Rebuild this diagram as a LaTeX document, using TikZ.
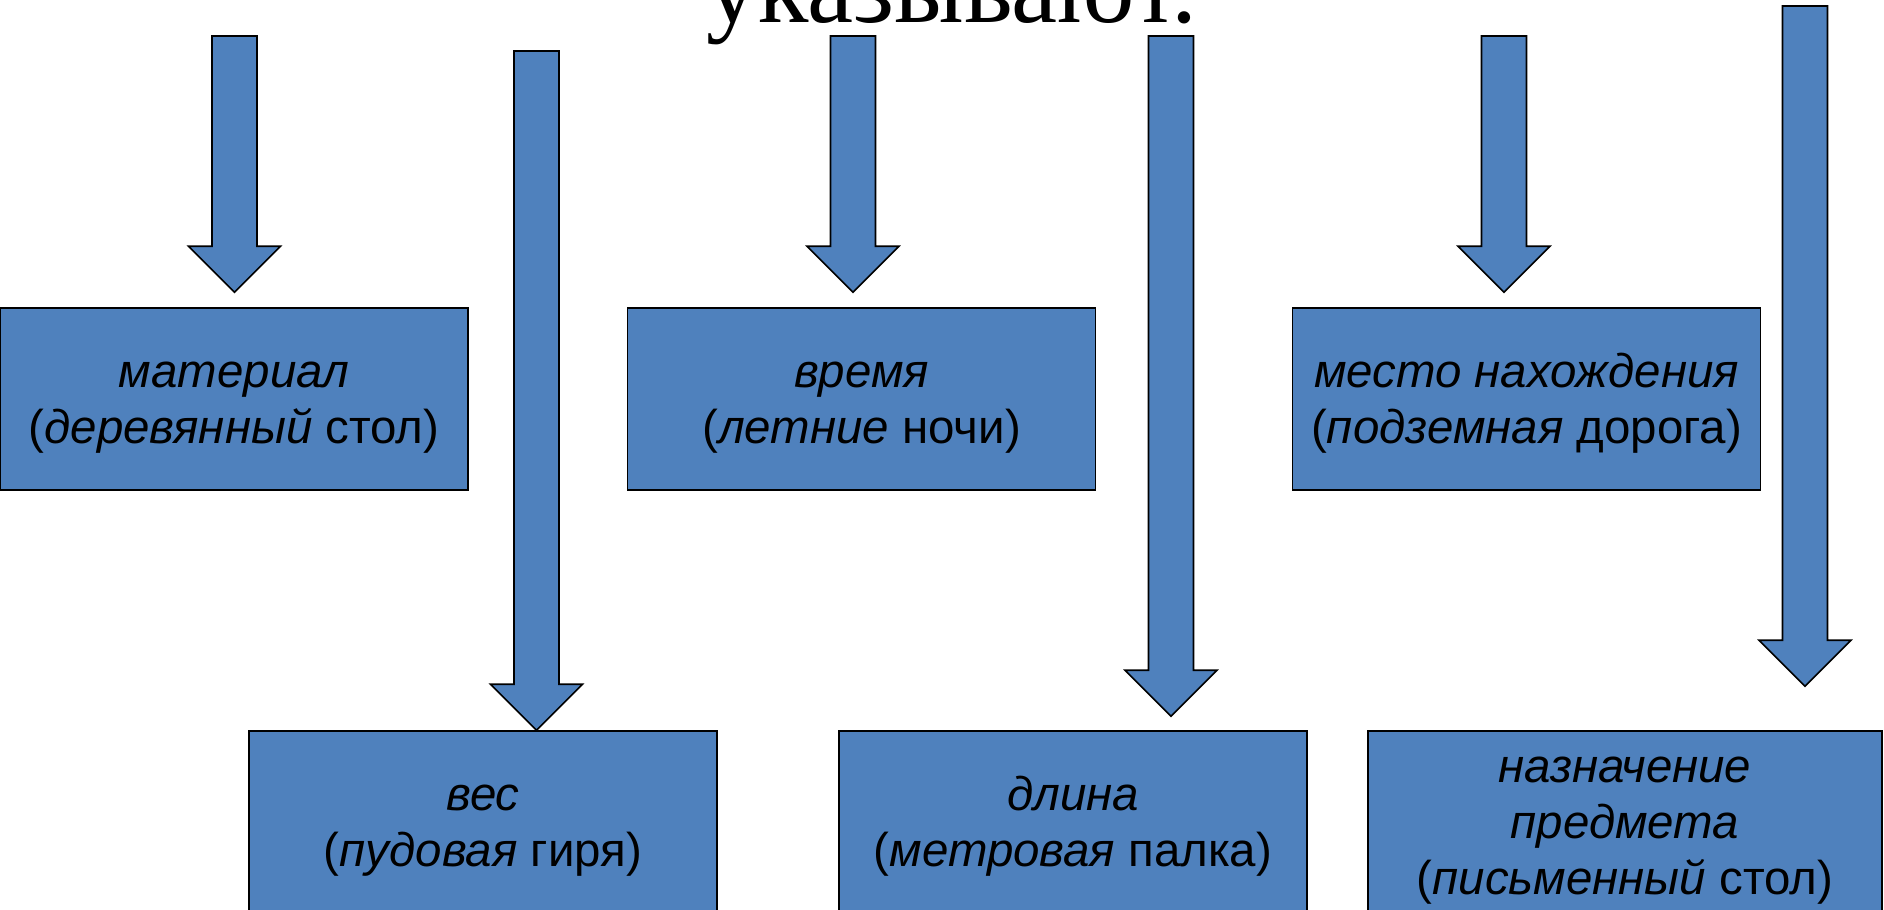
\documentclass[tikz,border=0pt]{standalone}
\usepackage{fontspec}
\setmainfont{Liberation Serif}
\newfontfamily\arial{Liberation Sans}
\usepackage{tikz}
\usetikzlibrary{calc}
\definecolor{slideblue}{RGB}{79,129,189}

\begin{document}
\begin{tikzpicture}[line join=miter,
box/.style={draw=black,fill=slideblue,line width=.9pt,minimum width=9.36cm,minimum height=3.64cm,inner sep=0pt,align=center,text depth=0.12cm,font=\arial\fontsize{27}{32}\selectfont},
blockarrow/.style={draw=black,fill=slideblue,line width=.9pt,
  to path={let \p1=(\tikztostart),\p2=(\tikztotarget) in
  (\x1-0.45cm,\y1)--(\x1-0.45cm,\y2+0.92cm)--(\x1-0.92cm,\y2+0.92cm)--(\x2,\y2)
  --(\x1+0.92cm,\y2+0.92cm)--(\x1+0.45cm,\y2+0.92cm)--(\x1+0.45cm,\y1)--cycle}}]
\useasboundingbox (0,0) rectangle (37.68,-18.18);
\clip (0,0) rectangle (37.68,-18.18);
% title, cut by the top edge
\node[anchor=base,font=\fontsize{59}{62}\selectfont] (title) at (19.04,-0.44) {указывают.};
% upper row
\node[box] (mat) at (4.68,-7.98) {\strut\textit{материал}\\(\textit{деревянный} стол)};
\node[box] (vrem) at (17.23,-7.98) {\strut\textit{время}\\(\textit{летние} ночи)};
\node[box] (mesto) at (30.53,-7.98) {\strut\textit{место нахождения}\\(\textit{подземная} дорога)};
% lower row
\node[box] (ves) at (9.66,-16.44) {\strut\textit{вес}\\(\textit{пудовая} гиря)};
\node[box] (dlin) at (21.46,-16.44) {\strut\textit{длина}\\(\textit{метровая} палка)};
\node[box,minimum width=10.28cm] (nazn) at (32.5,-16.44) {\strut\textit{назначение}\\\textit{предмета}\\(\textit{письменный} стол)};
% arrow tails
\coordinate (t1) at (4.69,-0.72);
\coordinate (t2) at (10.73,-1.02);
\coordinate (t3) at (17.06,-0.72);
\coordinate (t4) at (23.42,-0.72);
\coordinate (t5) at (30.08,-0.72);
\coordinate (t6) at (36.1,-0.12);
\draw[blockarrow] (t1) to ($(t1 |- mat.north)+(0,0.3)$);
\draw[blockarrow] (t3) to ($(t3 |- vrem.north)+(0,0.3)$);
\draw[blockarrow] (t5) to ($(t5 |- mesto.north)+(0,0.3)$);
\draw[blockarrow] (t2) to (t2 |- ves.north);
\draw[blockarrow] (t4) to ($(t4 |- dlin.north)+(0,0.28)$);
\draw[blockarrow] (t6) to ($(t6 |- nazn.north)+(0,0.88)$);
\end{tikzpicture}
\end{document}
